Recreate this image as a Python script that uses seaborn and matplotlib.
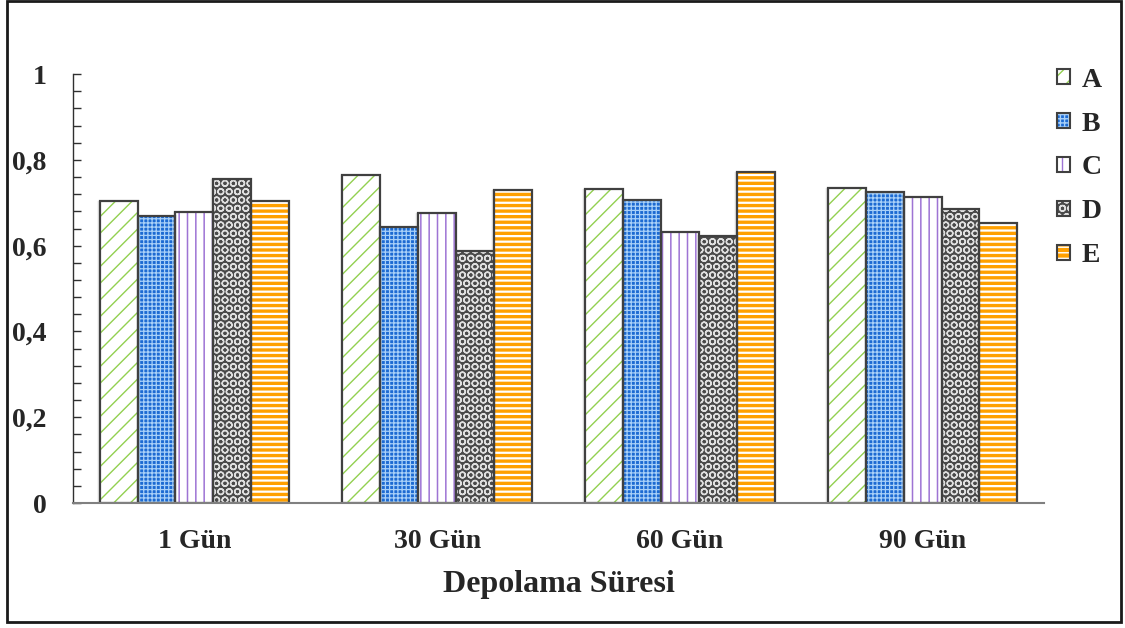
import matplotlib
matplotlib.use("Agg")
import numpy as np
import pandas as pd
import seaborn as sns
import matplotlib.pyplot as plt
from matplotlib.patches import Rectangle, Patch
from matplotlib.ticker import FixedLocator, FixedFormatter, MultipleLocator

# ---- data -------------------------------------------------------------
periods = ["1 Gün", "30 Gün", "60 Gün", "90 Gün"]
samples = ["A", "B", "C", "D", "E"]
val_A = [0.704, 0.765, 0.732, 0.734]
val_B = [0.670, 0.643, 0.706, 0.725]
val_C = [0.678, 0.676, 0.632, 0.713]
val_D = [0.755, 0.587, 0.622, 0.685]
val_E = [0.703, 0.730, 0.772, 0.653]
y_ticks = [0, 0.2, 0.4, 0.6, 0.8, 1.0]
y_tick_labels = ["0", "0,2", "0,4", "0,6", "0,8", "1"]
x_title = "Depolama Süresi"

series = {"A": val_A, "B": val_B, "C": val_C, "D": val_D, "E": val_E}
df = pd.DataFrame(
    [(p, s, series[s][i]) for s in samples for i, p in enumerate(periods)],
    columns=["period", "sample", "value"],
)

# fill colour, hatch colour, hatch pattern, hatch line width per sample
styles = {
    "A": ("#FFFFFF", "#92D050", "//", 1.0),
    "B": ("#1C6AD2", "#A8D0F8", "++++", 0.9),
    "C": ("#FFFFFF", "#9E74D4", "||", 1.1),
    "D": ("#4A4A4A", "#E0E0E0", "OO", 1.0),
    "E": ("#FFA000", "#FFFFFF", "---", 1.6),
}
outline = "#404040"

sns.set_style("white")
plt.rcParams["font.family"] = ["Liberation Serif", "DejaVu Serif"]
plt.rcParams["font.weight"] = "bold"

fig = plt.figure(figsize=(11.25, 6.28), dpi=100)
ax = fig.add_axes([0.0649, 0.199, 0.928 - 0.0649, 0.882 - 0.199])

sns.barplot(
    data=df, x="period", y="value", hue="sample", order=periods,
    hue_order=samples, width=0.78, ax=ax, legend=False,
    palette=[styles[s][0] for s in samples], linewidth=0, saturation=1,
)


def dress(patch, key):
    face, hcol, hatch, hlw = styles[key]
    patch.set_facecolor(face)
    patch.set_edgecolor(hcol)
    patch.set_linewidth(0)
    patch.set_hatch(hatch)
    if hasattr(patch, "set_hatch_linewidth"):
        patch.set_hatch_linewidth(hlw)


for key, cont in zip(samples, ax.containers):
    for bar in cont:
        dress(bar, key)
        x0, y0 = bar.get_xy()
        w, h = bar.get_width(), bar.get_height()
        # soft shadow on the left side of each bar
        for k, a in enumerate([0.10, 0.07, 0.04]):
            ax.add_patch(Rectangle((x0 - 0.004 * (k + 1), y0), w, h,
                                   facecolor="#000000", alpha=a,
                                   linewidth=0, zorder=bar.get_zorder() - 0.5))
        ax.add_patch(Rectangle((x0, y0), w, h, fill=False,
                               edgecolor=outline, linewidth=1.6,
                               zorder=bar.get_zorder() + 0.1))

ax.set_ylim(0, 1)
ax.set_xlim(-0.5, len(periods) - 0.5)
ax.yaxis.set_major_locator(FixedLocator(y_ticks))
ax.yaxis.set_major_formatter(FixedFormatter(y_tick_labels))
ax.yaxis.set_minor_locator(MultipleLocator(0.04))
ax.tick_params(axis="y", which="both", direction="in", length=6,
               width=1, color="#303030", left=True, labelsize=20, pad=19)
ax.tick_params(axis="x", length=0, labelsize=20, pad=19)
for lab in ax.get_xticklabels() + ax.get_yticklabels():
    lab.set_fontweight("bold")
ax.set_xlabel(x_title, fontsize=23, fontweight="bold", labelpad=11)
ax.set_ylabel("")

for side in ["top", "right"]:
    ax.spines[side].set_visible(False)
ax.spines["left"].set_color("#303030")
ax.spines["left"].set_linewidth(1.0)
ax.spines["bottom"].set_color("#808080")
ax.spines["bottom"].set_linewidth(1.5)

# legend with small square swatches
handles = []
for key in samples:
    face, hcol, hatch, hlw = styles[key]
    swatch = Patch(facecolor=face, edgecolor=hcol, linewidth=0, hatch=hatch)
    frame = Patch(fill=False, edgecolor=outline, linewidth=1.5)
    handles.append((swatch, frame))
fig.legend(handles, samples, loc="upper left",
           bbox_to_anchor=(0.930, 0.91), frameon=False,
           prop={"family": "Liberation Serif", "weight": "bold", "size": 20},
           handlelength=0.47, handleheight=0.47, handletextpad=0.4,
           labelspacing=0.68, borderaxespad=0)

# border around the whole figure
fig.add_artist(Rectangle((7 / 1125, 6 / 628), 1114 / 1125, 621 / 628,
                         transform=fig.transFigure, fill=False,
                         edgecolor="#1a1a1a", linewidth=2))

fig.savefig("out.png", dpi=100)
